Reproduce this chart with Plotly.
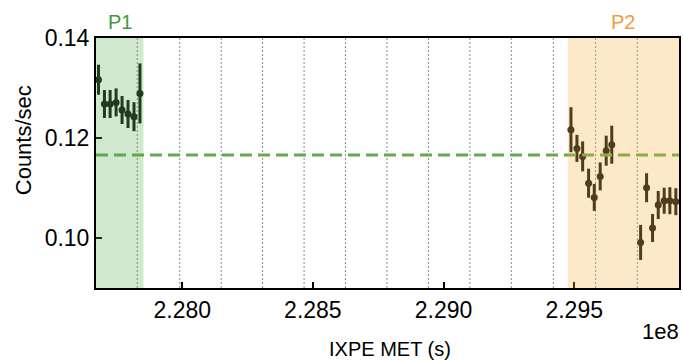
import plotly.graph_objects as go

# Light-curve bins (IXPE mission elapsed time, s) and count rates
p1_time = [227.6795e6, 227.7023e6, 227.7240e6, 227.7469e6,
           227.7697e6, 227.7925e6, 227.8154e6, 227.8382e6]
p1_rate = [0.13166, 0.1268, 0.1268, 0.12712, 0.1256, 0.1248, 0.12426, 0.12892]
p1_err = [0.0030, 0.0028, 0.0028, 0.0028, 0.0028, 0.0028, 0.0029, 0.0060]

p2_time = [229.4876e6, 229.5104e6, 229.5322e6, 229.5550e6, 229.5767e6,
           229.5995e6, 229.6224e6, 229.6437e6, 229.7541e6, 229.7769e6,
           229.7998e6, 229.8215e6, 229.8443e6, 229.8660e6, 229.8889e6]
p2_rate = [0.12166, 0.11792, 0.11632, 0.11096, 0.10812, 0.11232, 0.11746,
           0.11866, 0.09912, 0.11006, 0.10200, 0.10660, 0.10746, 0.10746,
           0.10726]
p2_err = [0.0045, 0.0027, 0.0030, 0.0029, 0.0027, 0.0028, 0.0030, 0.0038,
          0.0035, 0.0029, 0.0028, 0.0028, 0.0026, 0.0027, 0.0027]

# Mean count rate
mean_rate = 0.1166

# Segment boundaries (dotted)
segment_edges = [227.8279e6, 227.9905e6, 228.1492e6, 228.3076e6, 228.4663e6,
                 228.6250e6, 228.7834e6, 228.9421e6, 229.1009e6, 229.2592e6,
                 229.4199e6, 229.5817e6, 229.7416e6]

# Observation windows
p1_window = [227.60e6, 227.8515e6]
p2_window = [229.4758e6, 229.95e6]

x_range = [227.670e6, 229.901e6]
y_range = [0.09, 0.14]

x_tickvals = [228.0e6, 228.5e6, 229.0e6, 229.5e6]
x_ticktext = ["2.280", "2.285", "2.290", "2.295"]
y_tickvals = [0.10, 0.12, 0.14]

FONT = "Liberation Sans, Arial, Helvetica, sans-serif"
POINT_COLOR = "#111111"

fig = go.Figure()

for t, r, e in [(p1_time, p1_rate, p1_err), (p2_time, p2_rate, p2_err)]:
    fig.add_trace(go.Scatter(
        x=t, y=r, mode="markers",
        marker=dict(color=POINT_COLOR, size=7),
        error_y=dict(type="data", array=e, visible=True,
                     color=POINT_COLOR, thickness=3, width=0),
        showlegend=False, cliponaxis=True,
    ))

shapes = []
for xe in segment_edges:
    shapes.append(dict(type="line", xref="x", yref="paper",
                       x0=xe, x1=xe, y0=0, y1=1, layer="below",
                       line=dict(color="#8a8a8a", width=1, dash="2px,2px")))

shapes.append(dict(type="line", xref="paper", yref="y",
                   x0=0, x1=1, y0=mean_rate, y1=mean_rate, layer="above",
                   line=dict(color="#66aa4d", width=3, dash="12px,6px")))

shapes.append(dict(type="rect", xref="x", yref="paper",
                   x0=p1_window[0], x1=p1_window[1], y0=0, y1=1,
                   layer="above", line=dict(width=0),
                   fillcolor="rgba(80,170,70,0.27)"))
shapes.append(dict(type="rect", xref="x", yref="paper",
                   x0=p2_window[0], x1=p2_window[1], y0=0, y1=1,
                   layer="above", line=dict(width=0),
                   fillcolor="rgba(245,175,60,0.28)"))

p1_mid = (max(p1_window[0], x_range[0]) + min(p1_window[1], x_range[1])) / 2
p2_mid = (max(p2_window[0], x_range[0]) + min(p2_window[1], x_range[1])) / 2


def label(text, x, y, xref, size, color, angle=0):
    return dict(text=text, x=x, xref=xref, y=y, yref="paper",
                xanchor="center", yanchor="middle", textangle=angle,
                showarrow=False, font=dict(family=FONT, size=size, color=color))


annotations = [
    label("P1", p1_mid, 1.064, "x", 20, "#3f9b3a"),
    label("P2", p2_mid, 1.064, "x", 20, "#f39a3d"),
    label("1e8", 0.9675, -0.172, "paper", 22, "black"),
    label("IXPE MET (s)", 0.504, -0.242, "paper", 20, "black"),
    label("Counts/sec", -0.1248, 0.592, "paper", 22, "black", angle=-90),
]

fig.update_layout(
    width=683, height=360,
    margin=dict(l=96, r=2, t=38, b=72),
    paper_bgcolor="white", plot_bgcolor="white",
    shapes=shapes, annotations=annotations,
    font=dict(family=FONT, color="black"),
)

fig.update_xaxes(
    range=x_range, tickvals=x_tickvals, ticktext=x_ticktext,
    ticks="inside", ticklen=6, tickwidth=2, tickcolor="black",
    showline=True, linewidth=2, linecolor="black", mirror=True,
    showgrid=False, zeroline=False,
    tickfont=dict(family=FONT, size=23, color="black"),
)
fig.update_yaxes(
    range=y_range, tickvals=y_tickvals, tickformat=".2f",
    ticks="inside", ticklen=6, tickwidth=2, tickcolor="black",
    showline=True, linewidth=2, linecolor="black", mirror=True,
    showgrid=False, zeroline=False,
    tickfont=dict(family=FONT, size=23, color="black"),
)

fig.write_html("out.html")
